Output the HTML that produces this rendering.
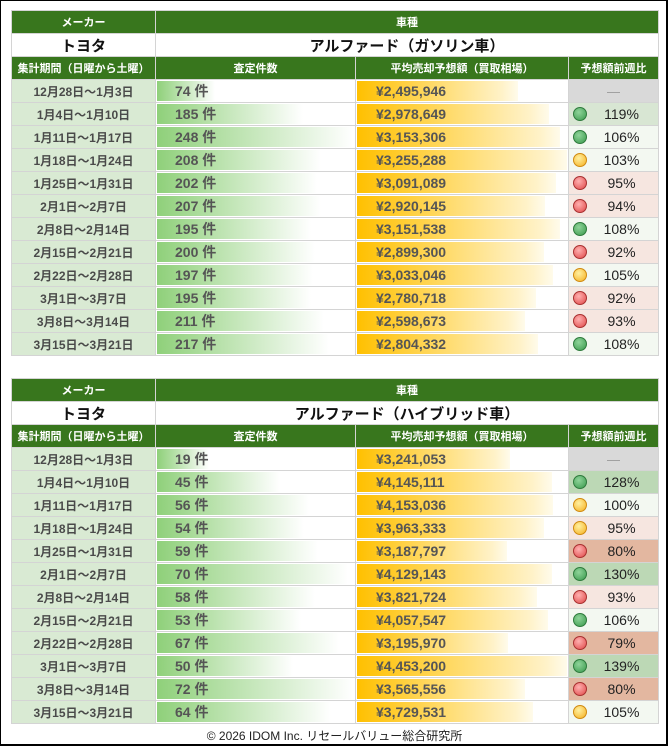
<!DOCTYPE html>
<html><head><meta charset="utf-8"><style>
html,body{margin:0;padding:0;}
body{width:669px;height:747px;position:relative;background:#fff;font-family:"Liberation Sans","Noto Sans CJK JP",sans-serif;overflow:hidden;}
.frame{position:absolute;left:0;top:0;width:665px;height:743px;border:2px solid #000;border-left:1px solid #000;border-top:1px solid #000;}
table{position:absolute;left:11px;border-collapse:collapse;table-layout:fixed;width:647px;}
td{border:1px solid #d4d4d4;height:22px;padding:0;font-size:13px;color:#4a4a4a;position:relative;overflow:hidden;white-space:nowrap;}
.h td{background:#38761d;color:#fff;font-size:11px;font-weight:bold;text-align:center;border-color:#d4d4d4;}
.m td{font-size:15px;font-weight:bold;color:#111;text-align:center;}
.per{background:#d9ead3;text-align:center;font-weight:bold;font-size:12px;}
.bar{position:absolute;left:1px;top:1px;bottom:1px;}
.g{background:linear-gradient(90deg,#8fd07a,#fff);}
.y{background:linear-gradient(90deg,#ffc000,#fff2c8 90%,#fffbeb);}
.t{position:relative;font-weight:bold;font-size:14px;color:#555;}
.pct{font-size:14px;color:#222;}
.dot{position:absolute;left:4px;top:4px;width:12px;height:12px;border-radius:50%;}
.dg{background:radial-gradient(circle at 40% 35%,#8fd49a,#3a9a4d);border:1px solid #2e7a3c;}
.dr{background:radial-gradient(circle at 40% 35%,#ffb0b0,#e04848);border:1px solid #a83030;}
.dy{background:radial-gradient(circle at 40% 35%,#fff0a0,#f5b020);border:1px solid #d08a10;}
.foot{position:absolute;top:727px;left:0;width:669px;text-align:center;font-size:12px;color:#222;}
</style></head><body>
<div class="frame"></div>
<div id="w"></div>
<div class="foot">© 2026 IDOM Inc. リセールバリュー総合研究所</div>
<script>
var T=[
{top:10,name:"アルファード（ガソリン車）",d:[
["12月28日～1月3日",74,2495946,null],["1月4日～1月10日",185,2978649,119,"g"],["1月11日～1月17日",248,3153306,106,"g"],["1月18日～1月24日",208,3255288,103,"y"],["1月25日～1月31日",202,3091089,95,"r"],["2月1日～2月7日",207,2920145,94,"r"],["2月8日～2月14日",195,3151538,108,"g"],["2月15日～2月21日",200,2899300,92,"r"],["2月22日～2月28日",197,3033046,105,"y"],["3月1日～3月7日",195,2780718,92,"r"],["3月8日～3月14日",211,2598673,93,"r"],["3月15日～3月21日",217,2804332,108,"g"]]},
{top:378,name:"アルファード（ハイブリッド車）",d:[
["12月28日～1月3日",19,3241053,null],["1月4日～1月10日",45,4145111,128,"g"],["1月11日～1月17日",56,4153036,100,"y"],["1月18日～1月24日",54,3963333,95,"y"],["1月25日～1月31日",59,3187797,80,"r"],["2月1日～2月7日",70,4129143,130,"g"],["2月8日～2月14日",58,3821724,93,"r"],["2月15日～2月21日",53,4057547,106,"g"],["2月22日～2月28日",67,3195970,79,"r"],["3月1日～3月7日",50,4453200,139,"g"],["3月8日～3月14日",72,3565556,80,"r"],["3月15日～3月21日",64,3729531,105,"y"]]}];
function bg(p){if(p>=125)return"#bcd8b5";if(p>=115)return"#d8e6d3";if(p>=100)return"#f3f8f1";if(p>=90)return"#f6e6e0";if(p>=85)return"#f0d0c4";return"#e3b7a0";}
function fm(n){return"¥"+n.toLocaleString("en-US");}
var h="";
T.forEach(function(t){
 var mc=Math.max.apply(null,t.d.map(function(r){return r[1]})),mp=Math.max.apply(null,t.d.map(function(r){return r[2]}));
 if(t.top==10){mc=248;mp=3255288;}
 h+='<table style="top:'+t.top+'px"><colgroup><col style="width:144px"><col style="width:200px"><col style="width:213px"><col style="width:90px"></colgroup>';
 h+='<tr class="h"><td>メーカー</td><td colspan="3">車種</td></tr>';
 h+='<tr class="m"><td>トヨタ</td><td colspan="3">'+t.name+'</td></tr>';
 h+='<tr class="h"><td>集計期間（日曜から土曜）</td><td>査定件数</td><td>平均売却予想額（買取相場）</td><td>予想額前週比</td></tr>';
 t.d.forEach(function(r){
  var cw=Math.round(r[1]/mc*196),pw=Math.round(r[2]/mp*210);
  h+='<tr><td class="per">'+r[0]+'</td>';
  h+='<td><div class="bar g" style="width:'+cw+'px"></div><span class="t" style="padding-left:19px">'+r[1]+' 件</span></td>';
  h+='<td><div class="bar y" style="width:'+pw+'px"></div><span class="t" style="padding-left:20px">'+fm(r[2])+'</span></td>';
  if(r[3]==null)h+='<td style="background:#d9d9d9;text-align:center;color:#999">—</td>';
  else h+='<td style="background:'+bg(r[3])+';text-align:center"><div class="dot d'+r[4]+'"></div><span class="pct" style="padding-left:16px">'+r[3]+'%</span></td>';
  h+='</tr>';
 });
 h+='</table>';
});
document.getElementById("w").innerHTML=h;
</script>
</body></html>
